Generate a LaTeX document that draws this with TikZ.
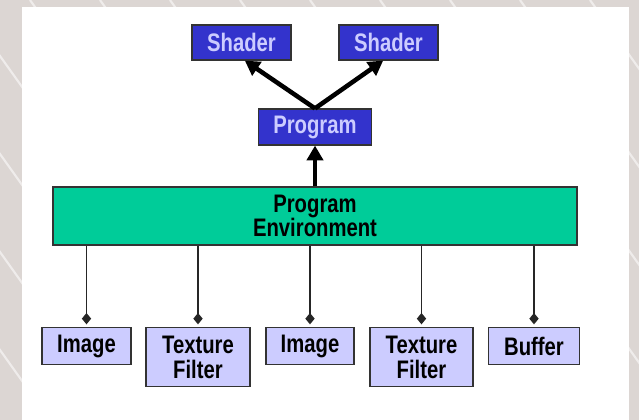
\documentclass[tikz,border=0pt]{standalone}
\usepackage{fontspec}
\setmainfont{Liberation Sans}[FakeStretch=0.8]
\usetikzlibrary{arrows.meta}

\definecolor{shaderblue}{HTML}{3333CC}
\definecolor{lilac}{HTML}{CCCCFF}
\definecolor{envgreen}{HTML}{00CC99}
\definecolor{slidegrey}{HTML}{DCD6D3}

\tikzset{
  box/.style={rectangle, draw=black!80, line width=0.9pt, inner sep=0pt, align=center,
    font=\fontsize{19}{18.5}\selectfont\bfseries},
  bluebox/.style={box, fill=shaderblue, text=lilac},
  lilacbox/.style={box, fill=lilac, text=black},
  envbox/.style={box, fill=envgreen, text=black},
  uparrow/.style={-{Triangle[length=11pt,width=12pt]}, line width=3.4pt},
  hook/.style={-{Diamond[length=8.5pt,width=7pt]}, line width=1.2pt, draw=black!85, shorten >=2pt},
  stripe/.style={white, opacity=0.55, line width=1.6pt}
}

\begin{document}
\begin{tikzpicture}[x=0.75pt, y=-0.75pt]

\useasboundingbox (0,0) rectangle (639,420);
\fill [slidegrey] (0,0) rectangle (639,420);
\foreach \s in {-320,-250,...,660}
  \draw [stripe] (\s,0) -- +(300,420);
\fill [white] (22,7) rectangle (629,420);

\draw (241.5,42.5) node (shaderA) [bluebox, minimum width=74.25pt, minimum height=26.25pt] {Shader};
\draw (388.5,42.5) node (shaderB) [bluebox, minimum width=74.25pt, minimum height=26.25pt] {Shader};
\draw (315,127) node (program) [bluebox, minimum width=84.75pt, minimum height=27pt] {Program};

\draw (315,216) node (env) [envbox, minimum width=393pt, minimum height=43.5pt] {Program\\Environment};

\draw (86.5,327) node (imageA) [lilacbox, anchor=north, minimum width=66.75pt, minimum height=27.75pt] {Image};
\draw (198,327) node (filterA) [lilacbox, anchor=north, minimum width=78pt, minimum height=44.25pt] {Texture\\Filter};
\draw (310,327) node (imageB) [lilacbox, anchor=north, minimum width=66pt, minimum height=27.75pt] {Image};
\draw (421.5,327) node (filterB) [lilacbox, anchor=north, minimum width=77.25pt, minimum height=44.25pt] {Texture\\Filter};
\draw (534,327) node (buffer) [lilacbox, anchor=north, minimum width=68.25pt, minimum height=27.75pt] {Buffer};

\draw [uparrow] (program.north) -- ([xshift=2.5pt]shaderA.south);
\draw [uparrow] (program.north) -- ([xshift=-4pt]shaderB.south);
\draw [uparrow] (env.north) -- (program.south);

\foreach \part in {imageA, filterA, imageB, filterB, buffer}
  \draw [hook] (env.south -| \part.north) -- (\part.north);

\end{tikzpicture}
\end{document}
